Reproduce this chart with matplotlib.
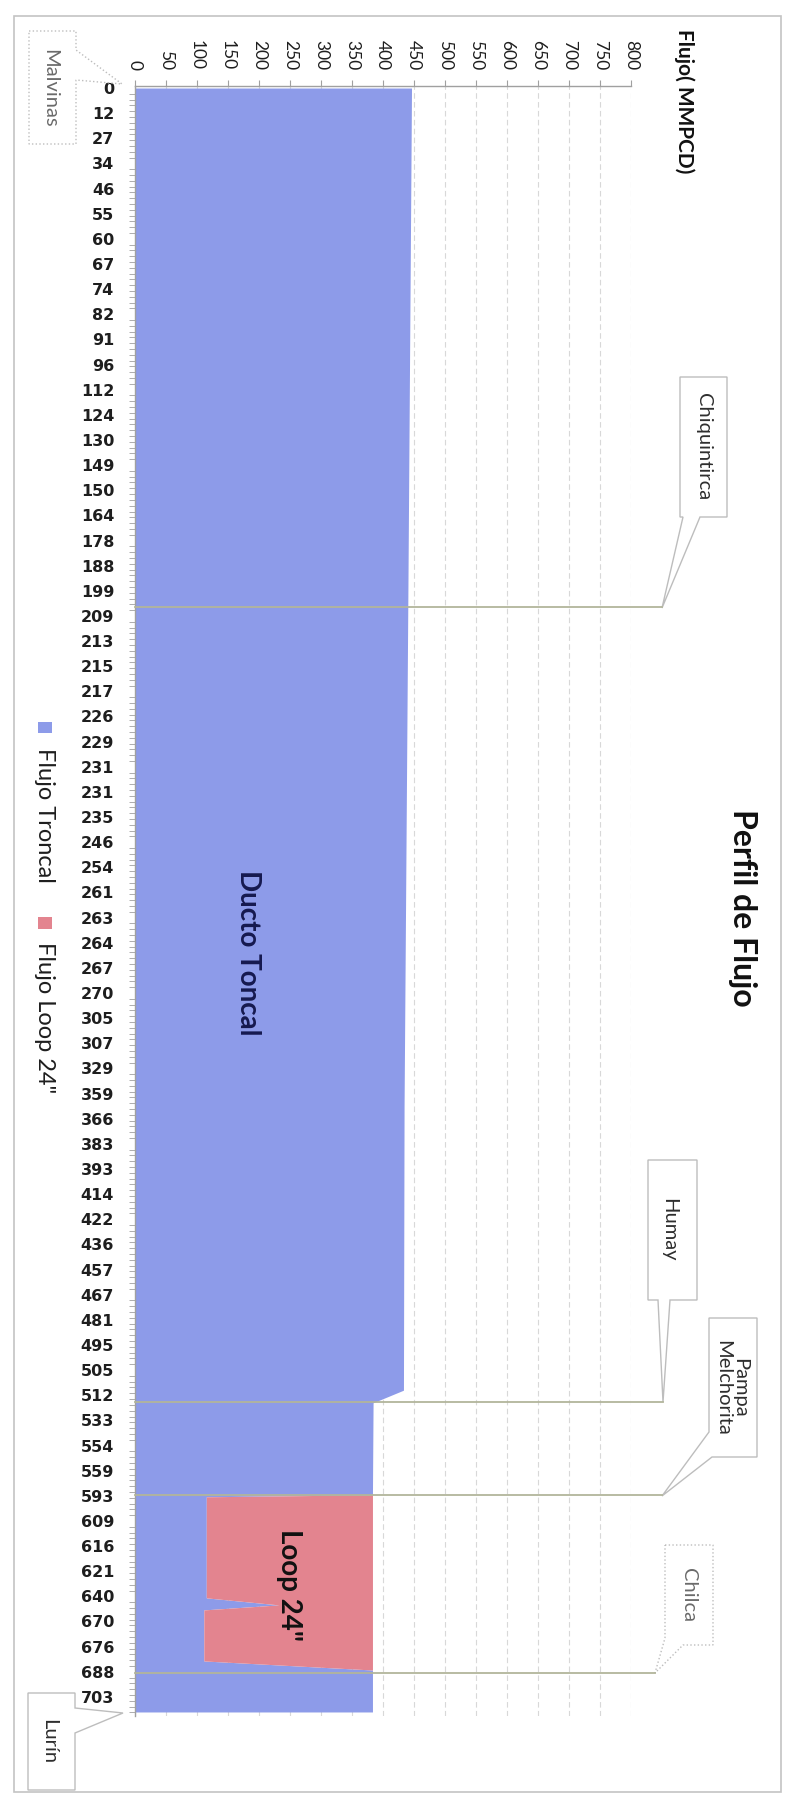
import matplotlib
matplotlib.use("Agg")
import matplotlib.pyplot as plt
import numpy as np
from matplotlib.ticker import MultipleLocator
from matplotlib.patches import Polygon, Rectangle
from matplotlib.transforms import blended_transform_factory

plt.rcParams['font.family'] = ['Lato', 'DejaVu Sans']

# Progresivas (km) shown on the category axis
km_labels = ['0', '12', '27', '34', '46', '55', '60', '67', '74', '82', '91', '96',
             '112', '124', '130', '149', '150', '164', '178', '188', '199', '209',
             '213', '215', '217', '226', '229', '231', '231', '235', '246', '254',
             '261', '263', '264', '267', '270', '305', '307', '329', '359', '366',
             '383', '393', '414', '422', '436', '457', '467', '481', '495', '505',
             '512', '533', '554', '559', '593', '609', '616', '621', '640', '670',
             '676', '688', '703']

# flow profile, position measured in category-label units
perfil_pos = [0, 20.6, 40.5, 51.8, 52.3, 55.96, 56.04, 60.06, 60.34, 60.54, 62.57, 62.93, 64.6]
flujo_troncal = [446, 440, 434, 433, 384, 383, 115, 115, 232, 111, 111, 383, 383]
flujo_loop = [0, 0, 0, 0, 0, 0, 268, 268, 151, 272, 272, 0, 0]

estaciones = ['Malvinas', 'Chiquintirca', 'Humay', 'Pampa\nMelchorita', 'Chilca', 'Lurín']
estacion_pos = [0, 20.66, 52.27, 55.97, 63.03, 64.6]

blue = '#8d9be9'
pink = '#e3848f'
leader = '#b2b59b'

fig = plt.figure(figsize=(7.87, 17.98), dpi=100)
W, H = 787, 1798

# plot area: x 135..631 px, y 86..1716 px
ax = fig.add_axes([135 / W, 1 - 1716 / H, 496 / W, (1716 - 86) / H])
pos = np.array(perfil_pos)
tr = np.array(flujo_troncal)
lp = np.array(flujo_loop)
ax.fill_betweenx(pos, 0, tr, color=blue, lw=0, zorder=2)
ax.fill_betweenx(pos, tr, tr + lp, color=pink, lw=0, zorder=2)

ax.set_xlim(0, 800)
ax.set_ylim(64.76, -0.08)
ax.xaxis.tick_top()
ax.set_xticks(np.arange(0, 801, 50))
ax.set_xticklabels([str(v) for v in range(0, 801, 50)], rotation=-90, fontsize=12.5, color='#1e1e1e')
ax.tick_params(axis='x', direction='out', length=4.5, color='#a0a0a0', pad=7)
ax.set_yticks(range(len(km_labels)))
ax.set_yticklabels(km_labels, fontsize=11.5, fontweight='bold', color='#1e1e1e',
                   family='DejaVu Sans')
ax.yaxis.set_minor_locator(MultipleLocator(3 / 13))
ax.tick_params(axis='y', which='major', length=0, pad=15)
ax.tick_params(axis='y', which='minor', length=4.3, color='#a0a0a0', direction='out')
ax.grid(axis='x', color='#d8d8d8', lw=0.8, ls=(0, (5, 3)), zorder=1)
for s in ['right', 'bottom']:
    ax.spines[s].set_visible(False)
for s in ['left', 'top']:
    ax.spines[s].set_color('#a0a0a0')
    ax.spines[s].set_linewidth(1)
ax.set_facecolor('none')

# overlay in pixel coordinates for frame, titles and callouts
ov = fig.add_axes([0, 0, 1, 1], zorder=5)
ov.set_xlim(0, W)
ov.set_ylim(H, 0)
ov.axis('off')
ov.patch.set_alpha(0)

ov.add_patch(Rectangle((14, 16), 767, 1776, fill=False, ec='#c4c4c4', lw=1.2))

ov.text(743, 908, 'Perfil de Flujo', rotation=-90, fontsize=23, fontweight='bold',
        color='#111111', ha='center', va='center')
ov.text(684, 101, 'Flujo( MMPCD)', rotation=-90, fontsize=15, fontweight='bold',
        color='#111111', ha='center', va='center')

# legend
ov.add_patch(Rectangle((38, 722), 14, 11, color=blue, lw=0))
ov.text(44, 815, 'Flujo Troncal', rotation=-90, fontsize=17, color='#1e1e1e',
        ha='center', va='center')
ov.add_patch(Rectangle((38, 917), 14, 12, color=pink, lw=0))
ov.text(44, 1018, 'Flujo Loop 24"', rotation=-90, fontsize=17, color='#1e1e1e',
        ha='center', va='center')

ov.text(248, 953, 'Ducto Toncal', rotation=-90, fontsize=20, fontweight='bold',
        color='#16194f', ha='center', va='center')
ov.text(289, 1585, 'Loop 24"', rotation=-90, fontsize=20, fontweight='bold',
        color='#111111', ha='center', va='center')

# callouts: box outline with wedge, text position, text colour, border style
callouts = [
    ([(29, 31), (76, 31), (76, 50), (122, 84), (76, 80), (76, 144), (29, 144)],
     (50, 88), '#6a6a6a', ':'),
    ([(680, 377), (727, 377), (727, 517), (700, 517), (662, 608), (683, 517), (680, 517)],
     (703, 447), '#2e2e2e', '-'),
    ([(648, 1160), (697, 1160), (697, 1300), (670, 1300), (663, 1402), (658, 1300), (648, 1300)],
     (669, 1230), '#2e2e2e', '-'),
    ([(709, 1318), (757, 1318), (757, 1457), (712, 1457), (662, 1496), (709, 1432)],
     (731, 1388), '#2e2e2e', '-'),
    ([(665, 1545), (713, 1545), (713, 1645), (683, 1645), (655, 1673), (665, 1638)],
     (689, 1595), '#6a6a6a', ':'),
    ([(28, 1693), (75, 1693), (75, 1708), (123, 1713), (75, 1733), (75, 1790), (28, 1790)],
     (49, 1742), '#2e2e2e', '-'),
]
for name, (verts, tpos, tcol, ls) in zip(estaciones, callouts):
    ov.add_patch(Polygon(verts, closed=True, fc='white', ec='#bdbdbd', lw=1, ls=ls))
    ov.text(tpos[0], tpos[1], name, rotation=-90, fontsize=14.5, color=tcol,
            ha='center', va='center', multialignment='center', linespacing=1.0)

# horizontal leader lines at the station positions
blend = blended_transform_factory(ov.transData, ax.transData)
tips_x = [662, 663, 662, 655]
for p, tx in zip(estacion_pos[1:5], tips_x):
    ov.plot([135, tx], [p, p], color=leader, lw=1.3, transform=blend, zorder=3)

fig.savefig('out.png', dpi=100)
